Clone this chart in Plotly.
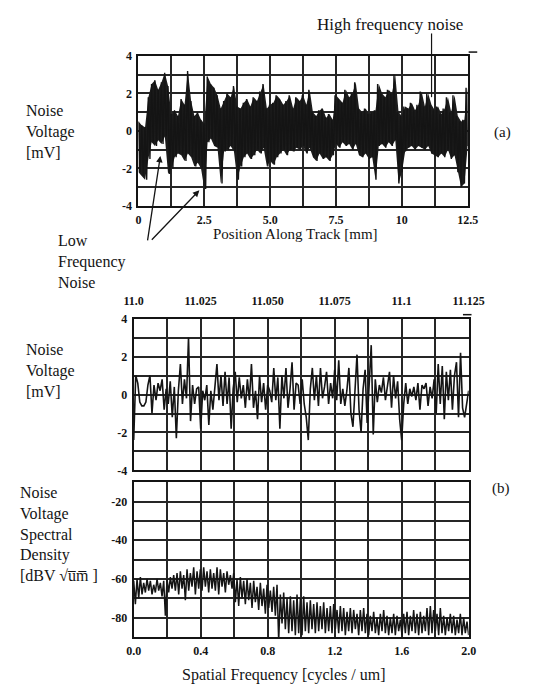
import numpy as np
import plotly.graph_objects as go

# ---------------- data ----------------
# (a) noise voltage vs position: local upper / lower excursions, 0.125 mm steps
track_hi = [0.5, 0.3, 0.2, 1.8, 2.5, 2.7, 2.2, 2.6, 3.1, 2.4,
            0.9, 1.1, 0.8, 1.7, 1.4, 3.2, 1.6, 0.8, 1.0, 0.6,
            0.4, 2.9, 2.5, 2.3, 1.9, 1.2, 1.6, 2.0, 1.8, 2.4,
            1.3, 1.2, 1.5, 1.7, 1.3, 1.8, 1.6, 2.1, 2.5, 1.2,
            1.4, 1.5, 1.9, 1.7, 1.4, 1.6, 1.9, 1.2, 1.8, 1.6,
            1.9, 1.4, 2.2, 1.0, 0.8, 1.1, 1.2, 0.7, 0.9, 0.6,
            1.9, 1.7, 1.5, 2.2, 1.8, 2.0, 2.6, 1.2, 1.0, 1.2,
            0.9, 1.0, 1.1, 2.5, 2.0, 1.8, 2.2, 2.0, 3.0, 1.0,
            0.8, 1.3, 1.2, 1.5, 1.1, 1.4, 2.1, 1.3, 2.0, 1.4,
            1.1, 1.3, 0.9, 1.2, 1.8, 1.0, 1.9, 0.8, 0.5, 0.6, 2.3]
track_lo = [-2.2, -2.4, -2.6, -1.5, -0.6, -0.8, -0.5, -0.7, -0.3, -2.3,
            -2.0, -1.4, -1.2, -1.3, -1.6, -1.2, -1.4, -1.9, -1.7, -2.0,
            -3.1, -0.6, -0.4, -0.8, -0.9, -2.8, -1.1, -1.0, -0.8, -1.1,
            -2.6, -1.9, -1.4, -1.2, -1.5, -1.3, -1.0, -1.2, -0.9, -1.9,
            -1.6, -1.8, -1.4, -1.2, -1.0, -1.3, -1.0, -1.1, -0.9, -1.0,
            -0.8, -1.2, -0.9, -1.4, -1.6, -1.2, -1.5, -1.4, -1.6, -1.3,
            -0.7, -0.9, -0.6, -0.8, -0.7, -1.0, -0.7, -1.3, -1.4, -1.2,
            -1.5, -1.4, -2.6, -0.8, -0.7, -0.9, -0.6, -0.8, -0.5, -2.8,
            -2.2, -1.1, -0.9, -0.8, -1.0, -0.8, -0.9, -1.0, -0.8, -1.2,
            -1.3, -1.4, -1.2, -1.4, -1.0, -1.5, -1.3, -2.2, -3.0, -2.8, -0.8]

# (b) zoomed noise voltage, 11.0 .. 11.125 mm
zoom_mv = [-2.4, 1.0, 0.6, -0.4, -0.6, -0.6, -0.4, 0.5, 1.0, -1.0,
           0.5, -0.3, 0.6, 0.2, 0.8, -0.8, 0.3, -0.5, 0.7, -1.2,
           0.4, -2.3, 0.2, 1.6, -0.5, 0.8, -0.2, 3.0, -1.4, 0.5,
           -0.5, 0.3, 0.4, -1.8, 0.2, -0.3, 0.5, -1.6, 0.2, -0.8,
           0.4, 1.6, -0.3, 1.0, -0.6, 1.2, -0.5, 0.9, -1.8, 0.3,
           1.2, -0.4, 0.9, -0.2, 0.5, -0.7, 0.8, -0.3, 1.6, -0.7,
           0.2, -1.3, 1.0, -0.4, 0.6, -0.8, 0.5, 0.2, -0.4, 1.4,
           -0.3, 0.9, -1.8, 1.0, -0.2, 1.4, -0.7, 0.3, 1.7, -0.8,
           0.6,
           0.5, -0.5, 0.8, -0.5, -1.2, -2.4, 0.3, 1.4, -0.3, 1.0,
           -0.6, 1.4, -0.2, 0.4, 1.2, -0.5, 0.6, -0.2, 1.3, -0.3,
           1.8, -0.5, 0.3, -0.6, 0.2, 1.4, -1.0, -1.7, 0.4, 2.1,
           -0.8, -2.0, 0.3, 1.3, -1.5, 0.5, 2.6, -2.1, 0.8, -0.4,
           0.5, 0.1, 0.9, -0.3, 0.4, 1.2, -0.7, 1.0, -0.2, 0.7,
           -1.3, -2.4, -0.5, 0.6, -0.5, 0.3, -0.1, 0.4, -0.3, 0.6,
           -0.8, 0.5, 0.3, 0.6, -0.6, 0.4, -0.2, 0.8, -1.0, 1.6,
           -0.5, 1.5, -1.3, 1.2, -0.3, 1.3, -0.8, 1.0, 1.7, -1.2,
           2.2, -0.7, -1.2, -0.6, 0.2]

# (b) spectral density: local upper / lower values, 0.02 cycles/um steps
psd_hi = [-61, -60, -59, -62, -60, -61, -63, -60, -62, -61,
          -60, -59, -58, -57, -56, -58, -55, -57, -54, -56,
          -55, -54, -56, -55, -57, -54, -55, -57, -56, -58,
          -57, -60, -59, -61, -60, -62, -61, -64, -62, -65,
          -63, -66, -64, -63, -68, -67, -70, -69, -71, -68,
          -70, -69, -72, -71, -73, -72, -74, -72, -75, -74,
          -73, -76, -74, -75, -77, -75, -76, -78, -76, -75,
          -78, -79, -77, -80, -78, -76, -79, -80, -78, -79,
          -81, -78, -77, -79, -76, -78, -77, -79, -75, -74,
          -76, -78, -75, -79, -80, -78, -79, -81, -78, -80, -82]
psd_lo = [-73, -70, -68, -67, -66, -68, -67, -66, -69, -79,
          -67, -65, -66, -68, -65, -71, -66, -64, -68, -65,
          -66, -64, -67, -65, -66, -68, -64, -67, -63, -65,
          -72, -74, -70, -73, -71, -75, -72, -76, -74, -78,
          -75, -77, -79, -92, -83, -86, -88, -87, -89, -88,
          -89, -87, -88, -86, -88, -87, -86, -88, -87, -88,
          -86, -88, -87, -89, -87, -88, -86, -89, -87, -88,
          -89, -87, -88, -89, -87, -88, -89, -88, -89, -87,
          -89, -88, -89, -87, -88, -89, -88, -87, -89, -88,
          -87, -89, -88, -89, -87, -88, -89, -88, -89, -88, -89]

# tick grids and labels
track_ticks = [0, 1.25, 2.5, 3.75, 5.0, 6.25, 7.5, 8.75, 10.0, 11.25, 12.5]
track_labels = ["0", "", "2.5", "", "5.0", "", "7.5", "", "10", "", "12.5"]
mv_ticks = [-4, -3, -2, -1, 0, 1, 2, 3, 4]
mv_labels = ["-4", "", "-2", "", "0", "", "2", "", "4"]
zoom_ticks = [11.0, 11.0125, 11.025, 11.0375, 11.05, 11.0625, 11.075,
              11.0875, 11.1, 11.1125, 11.125]
zoom_labels = ["11.0", "", "11.025", "", "11.050", "", "11.075", "", "11.1", "", "11.125"]
freq_ticks = [0, 0.2, 0.4, 0.6, 0.8, 1.0, 1.2, 1.4, 1.6, 1.8, 2.0]
freq_labels = ["0.0", "", "0.4", "", "0.8", "", "1.2", "", "1.6", "", "2.0"]
db_ticks = [-90, -80, -70, -60, -50, -40, -30, -20, -10]
db_labels = ["", "-80", "", "-60", "", "-40", "", "-20", ""]

# ---------------- build traces ----------------
def zigzag(hi, lo, x0, x1):
    ys = []
    for h, l in zip(hi, lo):
        ys += [h, l]
    xs = np.linspace(x0, x1, len(ys))
    return xs, ys

pos_a = np.linspace(0.0, 12.5, len(track_hi))
xa, ya = zigzag(track_hi, track_lo, 0.0, 12.5)
xb = np.linspace(11.0, 11.125, len(zoom_mv))
xc, yc = zigzag(psd_hi, psd_lo, 0.0, 2.0)

W, H = 537, 694
INK = "#141414"
FONT = "Liberation Serif"

fig = go.Figure()
# solid body of the dense noise trace (between local extremes)
fig.add_trace(go.Scatter(x=list(pos_a) + list(pos_a[::-1]),
                         y=track_hi + track_lo[::-1], mode="lines",
                         fill="toself", fillcolor="#1c1c1c", line=dict(width=0),
                         xaxis="x", yaxis="y", showlegend=False, hoverinfo="skip"))
fig.add_trace(go.Scatter(x=xa, y=ya, mode="lines", line=dict(color=INK, width=1.4),
                         xaxis="x", yaxis="y", showlegend=False, hoverinfo="skip"))
fig.add_trace(go.Scatter(x=xb, y=zoom_mv, mode="lines", line=dict(color=INK, width=1.6),
                         xaxis="x2", yaxis="y2", showlegend=False, hoverinfo="skip"))
fig.add_trace(go.Scatter(x=xc, y=yc, mode="lines", line=dict(color=INK, width=1.5),
                         xaxis="x3", yaxis="y3", showlegend=False, hoverinfo="skip"))

def ax(**kw):
    d = dict(showgrid=True, gridcolor="#262626", gridwidth=1.5, showline=True,
             linecolor=INK, linewidth=2, mirror=True, zeroline=False, ticks="",
             tickfont=dict(family=FONT, size=12, color=INK, weight="bold"),
             fixedrange=True, tickmode="array", ticklabelstandoff=2)
    d.update(kw)
    return d

def px(x):
    return x / W

def py(y):
    return 1 - y / H

fig.update_layout(
    width=W, height=H, margin=dict(l=0, r=0, t=0, b=0),
    paper_bgcolor="white", plot_bgcolor="white",
    font=dict(family=FONT, color=INK),
    xaxis=ax(domain=[px(135), px(481)], anchor="y", range=[0, 12.5],
             tickvals=track_ticks, ticktext=track_labels),
    yaxis=ax(domain=[py(203), py(50)], anchor="x", range=[-4, 4],
             tickvals=mv_ticks, ticktext=mv_labels),
    xaxis2=ax(domain=[px(130), px(482)], anchor="y2", range=[11.0, 11.125], side="top",
              tickvals=zoom_ticks, ticktext=zoom_labels, ticklabelstandoff=7),
    yaxis2=ax(domain=[py(473), py(318)], anchor="x2", range=[-4, 4],
              tickvals=mv_ticks, ticktext=mv_labels),
    xaxis3=ax(domain=[px(130), px(482)], anchor="y3", range=[0, 2.0],
              tickvals=freq_ticks, ticktext=freq_labels),
    yaxis3=ax(domain=[py(643), py(485)], anchor="x3", range=[-90, -10],
              tickvals=db_ticks, ticktext=db_labels),
)

def label(text, x, y, size=16, xanchor="left", yanchor="middle", align="left"):
    fig.add_annotation(text=text, x=px(x), y=py(y), xref="paper", yref="paper",
                       showarrow=False, xanchor=xanchor, yanchor=yanchor, align=align,
                       font=dict(family=FONT, size=size, color=INK))

label("High frequency noise", 399, 18, size=17, xanchor="center")
label("(a)", 518, 128, size=15, xanchor="center")
label("(b)", 516, 491, size=15, xanchor="center")
label("Noise<br>Voltage<br>[mV]", 15, 127, size=16, yanchor="middle")
label("Noise<br>Voltage<br>[mV]", 15, 371, size=16, yanchor="middle")
label("Low<br>Frequency<br>Noise", 48, 260, size=16, yanchor="middle")
label("Position Along Track [mm]", 300, 232, size=15, xanchor="center")
label("Spatial Frequency [cycles / um]", 288, 682, size=16, xanchor="center")
label("Noise<br>Voltage<br>Spectral<br>Density<br>[dBV \u221Au\u0305m\u0305 ]", 8, 538, size=16,
      yanchor="middle")

# pointer for high-frequency noise
fig.add_shape(type="line", xref="paper", yref="paper", x0=px(443), x1=px(443),
              y0=py(27), y1=py(92), line=dict(color=INK, width=1.2))
# small marks at top-right corners
fig.add_shape(type="line", xref="paper", yref="paper", x0=px(482), x1=px(491),
              y0=py(46), y1=py(46), line=dict(color=INK, width=1.5))
fig.add_shape(type="line", xref="paper", yref="paper", x0=px(476), x1=px(485),
              y0=py(314), y1=py(314), line=dict(color=INK, width=1.5))

# arrows from "Low Frequency Noise"
for hx, hy, tx, ty in [(158, 152, 145, 238), (199, 187, 150, 238)]:
    fig.add_annotation(text="", x=px(hx), y=py(hy), xref="paper", yref="paper",
                       showarrow=True, ax=tx - hx, ay=ty - hy, axref="pixel", ayref="pixel",
                       arrowhead=2, arrowsize=1, arrowwidth=1.3, arrowcolor=INK)

fig.write_html("out.html")
